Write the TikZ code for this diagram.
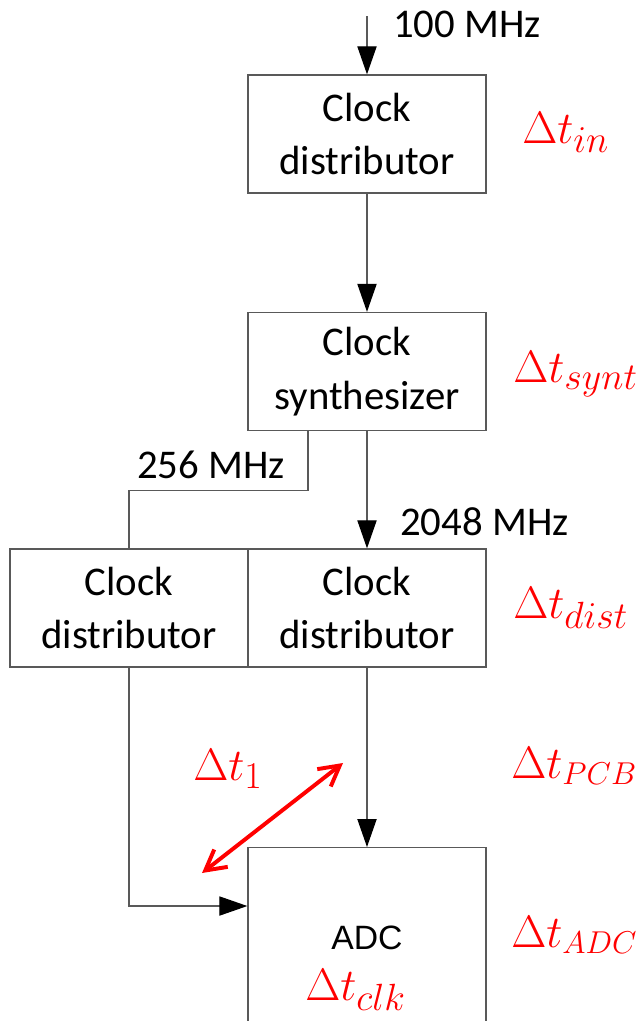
\documentclass[tikz,border=0pt]{standalone}
\usepackage{fontspec}
\setmainfont{Carlito}
\newfontfamily\arialfont{Liberation Sans}
\usetikzlibrary{arrows.meta}

\newcommand\blockfont{\fontsize{29}{38}\selectfont}
\newcommand\delayfont{\fontsize{24.88}{30}\selectfont}
\newcommand\dt[1]{\scalebox{1.3}{$\Delta t_{#1}$}}
\newcommand\dtcaps[1]{\scalebox{1.3}{$\Delta t_{\scriptscriptstyle #1}$}}

\tikzset{
  block/.style={draw=black!65, line width=0.9pt, minimum width=5.95cm,
    minimum height=2.95cm, align=center, font=\blockfont, inner sep=0pt},
  wire/.style={black!65, line width=0.9pt},
  sig/.style={wire, -{Triangle[length=0.7cm, width=0.48cm, color=black]}},
  freq/.style={font=\blockfont, anchor=base west, inner sep=0pt},
  delay/.style={text=red, font=\delayfont, anchor=base west, inner sep=0pt},
  skew/.style={red, line width=2.8pt,
    {Straight Barb[length=0.5cm, width=0.55cm]}-{Straight Barb[length=0.5cm, width=0.55cm]}}
}

\begin{document}
\begin{tikzpicture}[x=0.025cm, y=-0.025cm]
    \useasboundingbox (0,0) rectangle (638,1021);
    \clip (0,0) rectangle (638,1021);

    % Blocks
    \node[block] (distin) at (367,134) {Clock\\distributor};
    \node[block] (synth) at (367,371.5) {Clock\\synthesizer};
    \node[block] (distL) at (129,608) {Clock\\distributor};
    \node[block] (distR) at (367,608) {Clock\\distributor};
    \node[block, minimum height=6.25cm, anchor=north] (adc) at (367,847) {};
    \node[anchor=base west, inner sep=0pt, font=\arialfont\fontsize{24}{29}\selectfont]
        (adclabel) at (331,949) {ADC};

    % Clock lines
    \coordinate (clkin) at (367,16);
    \draw[sig] (clkin) -- (distin.north);
    \draw[sig] (distin.south) -- (synth.north);
    \draw[sig] (synth.south) -- (distR.north);
    \draw[wire] (synth.south) ++(-59,0) -- ++(0,59) -| (distL.north);
    \draw[sig] (distR.south) -- (adc.north);
    \draw[sig] (distL.south) |- ([yshift=-1.475cm]adc.north west);

    % Frequencies
    \node[freq] (f100) at (393,37) {100 MHz};
    \node[freq] (f256) at (137,478) {256 MHz};
    \node[freq] (f2048) at (400,535) {2048 MHz};

    % Delays
    \node[delay] (dtin) at (522,143) {\dt{in}};
    \node[delay] (dtsynt) at (513,382) {\dt{synt}};
    \node[delay] (dtdist) at (513,618) {\dt{dist}};
    \node[delay] (dtpcb) at (511,778) {\dtcaps{PCB}};
    \node[delay] (dtadc) at (511,947) {\dtcaps{ADC}};
    \node[delay] (dtone) at (193,780) {\dt{1}};
    \node[delay] (dtclk) at (305,1000) {\dt{clk}};

    % Skew
    \coordinate (skewA) at (202,873);
    \coordinate (skewB) at (343,763);
    \draw[skew] (skewA) -- (skewB);
\end{tikzpicture}
\end{document}
